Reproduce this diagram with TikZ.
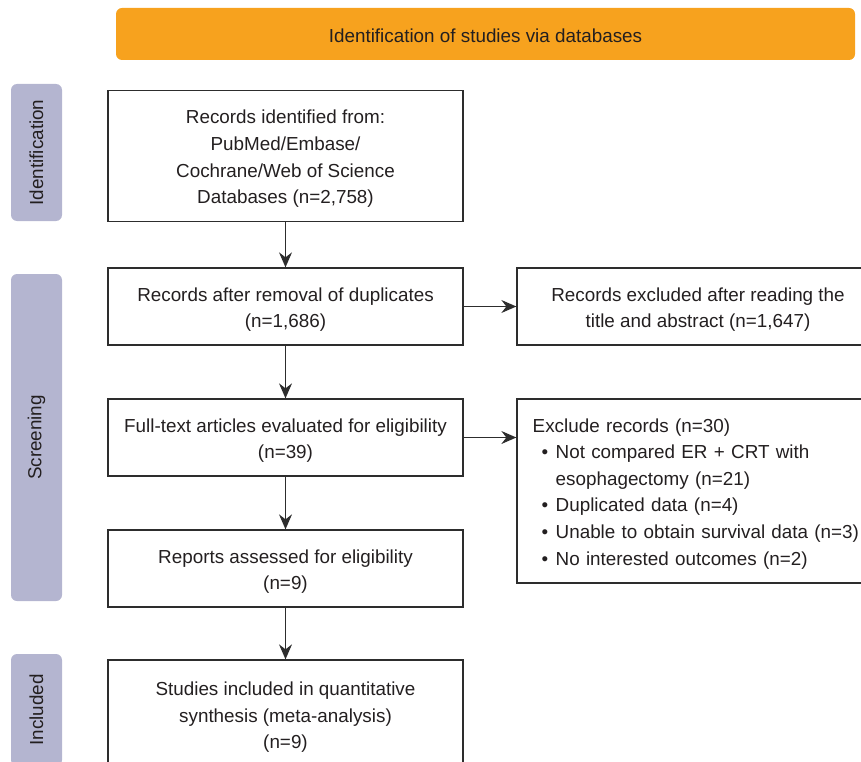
\documentclass[tikz,border=0pt]{standalone}
\usepackage{fontspec}
\setmainfont{Liberation Sans}
\usetikzlibrary{arrows.meta,calc}
\definecolor{bannerorange}{RGB}{247,162,30}
\definecolor{phaselav}{RGB}{180,181,208}
\definecolor{inkgray}{RGB}{35,31,32}
\definecolor{linegray}{RGB}{45,45,45}
\newcommand\bulitem{\makebox[23pt][l]{\hspace{9pt}\textbullet}}
\newcommand\ctext[1]{\raisebox{-2.8pt}[\height][\depth]{\begin{tabular}{@{}c@{}}#1\end{tabular}}}
\newcommand\ltext[1]{\raisebox{-2.3pt}[\height][\depth]{\begin{tabular}{@{}l@{}}#1\end{tabular}}}
\begin{document}
\begin{tikzpicture}[x=1pt,y=-1pt,
  every node/.style={font=\fontsize{18.85}{26.6}\selectfont, text=inkgray},
  flowbox/.style={draw=linegray, line width=1.3pt, inner sep=0pt, minimum width=355pt},
  phaselabel/.style={fill=phaselav, rounded corners=6pt, rotate=90, inner sep=0pt, minimum height=51pt},
  arr/.style={draw=linegray, line width=1.3pt, -{Stealth[length=15pt,width=13pt,inset=5pt]}}]
\useasboundingbox (0,0) rectangle (861,762);
\clip (0,0) rectangle (861,762);
% banner
\node[fill=bannerorange, rounded corners=6pt, minimum width=739pt, minimum height=52pt, inner sep=0pt] (banner) at (485.5,34) {\ctext{Identification of studies via databases}};
% phase labels
\node[phaselabel, minimum width=137pt] (lid) at (36.5,152.5) {Identification};
\node[phaselabel, minimum width=327pt] (lscr) at (36.5,437.5) {Screening};
\node[phaselabel, minimum width=112pt] (linc) at (36.5,710) {Included};
% main boxes
\node[flowbox, minimum height=131pt] (b1) at (285.5,155.75) {\ctext{Records identified from:\\PubMed/Embase/\\Cochrane/Web of Science\\Databases (n=2,758)}};
\node[flowbox, minimum height=77pt] (b2) at (285.5,306.5) {\ctext{Records after removal of duplicates\\(n=1,686)}};
\node[flowbox, minimum height=77pt] (b3) at (285.5,437.5) {\ctext{Full-text articles evaluated for eligibility\\(n=39)}};
\node[flowbox, minimum height=77pt] (b4) at (285.5,568.5) {\ctext{Reports assessed for eligibility\\(n=9)}};
\node[flowbox, minimum height=108pt] (b5) at (285.5,714) {\ctext{Studies included in quantitative\\synthesis (meta-analysis)\\(n=9)}};
% exclusion boxes
\node[flowbox, minimum width=362pt, minimum height=77pt] (e1) at (698,306.5) {\ctext{Records excluded after reading the\\title and abstract (n=1,647)}};
\node[draw=linegray, line width=1.3pt, align=left, inner xsep=15.7pt, inner ysep=0pt, text width=330.6pt, minimum height=184pt] (e2) at (698,491) {\ltext{Exclude records (n=30)\\
\bulitem Not compared ER + CRT with\\
\hspace*{23pt}esophagectomy (n=21)\\
\bulitem Duplicated data (n=4)\\
\bulitem Unable to obtain survival data (n=3)\\
\bulitem No interested outcomes (n=2)}};
% arrows
\draw[arr] (b1.south) -- (b2.north);
\draw[arr] (b2.south) -- (b3.north);
\draw[arr] (b3.south) -- (b4.north);
\draw[arr] (b4.south) -- (b5.north);
\draw[arr] (b2.east) -- (e1.west);
\draw[arr] (b3.east) -- (b3.east -| e2.west);
\end{tikzpicture}
\end{document}
